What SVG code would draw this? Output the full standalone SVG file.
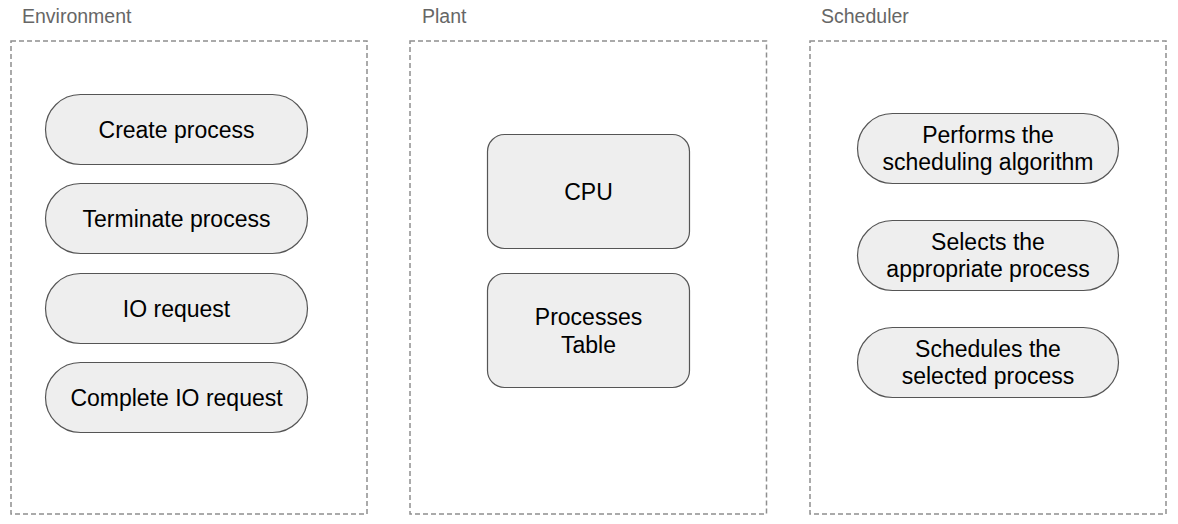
<svg xmlns="http://www.w3.org/2000/svg" width="1178" height="524" viewBox="0 0 1178 524">
  <style>
    .lane { fill: none; stroke: #8f8f8f; stroke-width: 1.5; stroke-dasharray: 5 3; }
    .lane-title { font-family: "Liberation Sans", Arial, sans-serif; font-size: 19.5px; fill: #666666; }
    .node { fill: #eeeeee; stroke: #555555; stroke-width: 1.2; }
    .label { font-family: "Liberation Sans", Arial, sans-serif; font-size: 23px; fill: #000000; text-anchor: middle; }
  </style>
  <rect width="1178" height="524" fill="#ffffff"/>

  <!-- swimlane containers -->
  <g id="lane-environment">
    <rect class="lane" x="11" y="41" width="356" height="473"/>
    <text class="lane-title" x="22" y="23">Environment</text>
  </g>
  <g id="lane-plant">
    <rect class="lane" x="410" y="41" width="356.5" height="473"/>
    <text class="lane-title" x="422" y="23">Plant</text>
  </g>
  <g id="lane-scheduler">
    <rect class="lane" x="810" y="41" width="356" height="473"/>
    <text class="lane-title" x="821" y="23">Scheduler</text>
  </g>

  <!-- Environment events -->
  <g id="create-process">
    <rect class="node" x="45.5" y="94.5" width="262" height="70" rx="35" ry="35"/>
    <text class="label" x="176.5" y="138">Create process</text>
  </g>
  <g id="terminate-process">
    <rect class="node" x="45.5" y="183.5" width="262" height="70" rx="35" ry="35"/>
    <text class="label" x="176.5" y="227">Terminate process</text>
  </g>
  <g id="io-request">
    <rect class="node" x="45.5" y="273.5" width="262" height="70" rx="35" ry="35"/>
    <text class="label" x="176.5" y="317">IO request</text>
  </g>
  <g id="complete-io-request">
    <rect class="node" x="45.5" y="362.5" width="262" height="70" rx="35" ry="35"/>
    <text class="label" x="176.5" y="406">Complete IO request</text>
  </g>

  <!-- Plant components -->
  <g id="cpu">
    <rect class="node" x="487.5" y="134.5" width="202" height="114" rx="17" ry="17"/>
    <text class="label" x="588.5" y="200">CPU</text>
  </g>
  <g id="processes-table">
    <rect class="node" x="487.5" y="273.5" width="202" height="114" rx="17" ry="17"/>
    <text class="label" x="588.5" y="325">Processes</text>
    <text class="label" x="588.5" y="353">Table</text>
  </g>

  <!-- Scheduler steps -->
  <g id="performs-algorithm">
    <rect class="node" x="857.5" y="113.5" width="261" height="70" rx="35" ry="35"/>
    <text class="label" x="988" y="143">Performs the</text>
    <text class="label" x="988" y="170">scheduling algorithm</text>
  </g>
  <g id="selects-process">
    <rect class="node" x="857.5" y="220.5" width="261" height="70" rx="35" ry="35"/>
    <text class="label" x="988" y="250">Selects the</text>
    <text class="label" x="988" y="277">appropriate process</text>
  </g>
  <g id="schedules-process">
    <rect class="node" x="857.5" y="327.5" width="261" height="70" rx="35" ry="35"/>
    <text class="label" x="988" y="357">Schedules the</text>
    <text class="label" x="988" y="384">selected process</text>
  </g>

  <g id="connectors"></g>
</svg>
